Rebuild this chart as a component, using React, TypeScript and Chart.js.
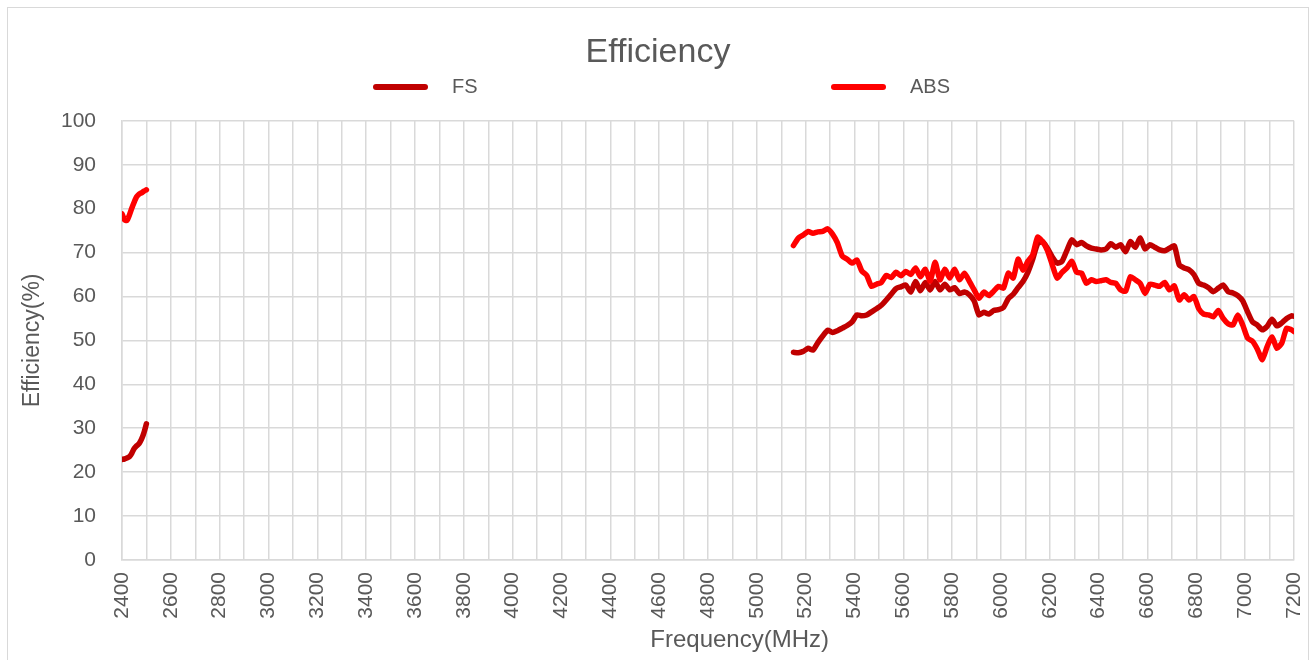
import { useEffect, useRef } from 'react';
import { Chart, registerables } from 'chart.js';

Chart.register(...registerables);

// ---- Data ----
const lowBandFreqs = [2400, 2410, 2420, 2430, 2440, 2450, 2460, 2470, 2480, 2490, 2500];
const fsLow = [22.9, 23.0, 23.2, 23.5, 24.3, 25.4, 26.0, 26.5, 27.5, 29.0, 31.0];
const absLow = [78.8, 77.5, 77.3, 78.5, 80.1, 81.5, 82.7, 83.3, 83.6, 84.0, 84.3];

const highBandFreqs = [
  5150, 5170, 5190, 5210, 5230, 5250, 5270, 5290, 5310, 5330,
  5350, 5370, 5390, 5410, 5430, 5450, 5470, 5490, 5510, 5530,
  5550, 5570, 5590, 5610, 5630, 5650, 5670, 5690, 5710, 5730,
  5750, 5770, 5790, 5810, 5830, 5850, 5870, 5890, 5910, 5930,
  5950, 5970, 5990, 6010, 6030, 6050, 6070, 6090, 6110, 6130,
  6150, 6170, 6190, 6210, 6230, 6250, 6270, 6290, 6310, 6330,
  6350, 6370, 6390, 6410, 6430, 6450, 6470, 6490, 6510, 6530,
  6550, 6570, 6590, 6610, 6630, 6650, 6670, 6690, 6710, 6730,
  6750, 6770, 6790, 6810, 6830, 6850, 6870, 6890, 6910, 6930,
  6950, 6970, 6990, 7010, 7030, 7050, 7070, 7090, 7110, 7130,
  7150, 7170, 7190, 7200,
];
const fsHigh = [
  47.3, 47.2, 47.5, 48.2, 47.8, 49.5, 51.0, 52.3, 51.8, 52.2,
  52.8, 53.4, 54.2, 55.8, 55.6, 55.8, 56.5, 57.2, 58.0, 59.2,
  60.5, 61.8, 62.2, 62.6, 61.0, 63.4, 61.3, 63.2, 61.5, 63.4,
  61.5, 62.8, 61.5, 62.0, 60.7, 61.0, 60.4, 59.0, 55.8, 56.4,
  56.0, 56.8, 57.0, 57.5, 59.5, 60.5, 62.0, 63.4, 65.5, 68.5,
  72.0, 72.5, 71.0, 69.0, 67.6, 68.0, 70.5, 72.9, 71.8, 72.3,
  71.5, 71.0, 70.8, 70.6, 70.8, 72.0, 71.2, 71.8, 70.2, 72.5,
  71.2, 73.3, 70.8, 71.8, 71.2, 70.6, 70.4, 71.0, 71.5, 67.2,
  66.5, 66.1, 65.0, 63.0, 62.6, 62.0, 61.1, 61.9, 62.6, 61.1,
  60.8, 60.2, 59.0, 56.5, 54.2, 53.5, 52.4, 53.2, 54.8, 53.3,
  54.0, 55.0, 55.6, 55.5,
];
const absHigh = [
  71.6, 73.3, 74.0, 74.8, 74.4, 74.7, 74.8, 75.4, 74.2, 72.2,
  69.2, 68.5, 67.6, 68.3, 65.8, 64.8, 62.3, 62.8, 63.2, 64.8,
  64.3, 65.5, 64.7, 65.7, 65.0, 66.5, 64.5, 66.2, 63.5, 67.8,
  63.8, 66.2, 64.2, 66.2, 63.8, 65.3, 63.5, 61.5, 59.6, 61.0,
  60.2, 61.2, 62.3, 61.9, 65.3, 64.2, 68.5, 66.0, 68.0, 69.5,
  73.5, 72.5, 70.5, 67.2, 64.2, 65.5, 66.5, 68.0, 65.5, 65.3,
  63.0, 63.8, 63.4, 63.6, 63.8, 63.2, 63.0, 61.5, 61.2, 64.5,
  63.8, 63.0, 60.7, 62.8, 62.6, 62.3, 63.2, 61.5, 62.4, 59.2,
  60.4, 59.2, 60.0, 57.2, 56.0, 55.8, 55.4, 56.8, 55.0, 53.8,
  53.5, 55.8, 53.5, 50.5, 49.8, 48.0, 45.6, 48.6, 50.8, 48.2,
  49.4, 52.8, 52.4, 52.0,
];

const seriesNames = ['FS', 'ABS'];
const seriesColors = ['#C00000', '#FF0000'];

const chartTitle = 'Efficiency';
const xAxisTitle = 'Frequency(MHz)';
const yAxisTitle = 'Efficiency(%)';
const xMin = 2400;
const xMax = 7200;
const xGridStep = 100;
const xLabelStep = 200;
const yMin = 0;
const yMax = 100;
const yStep = 10;

// ---- Styles ----
const FONT = '"Liberation Sans", Arial, sans-serif';
const TEXT = '#595959';
const GRID = '#d9d9d9';
const legendOffsets = [-285, 173];
const legendY = 79;
const xTitleFrac = 0.527;
const xTitleY = 632;

const toPoints = (xs: number[], ys: number[]) => xs.map((x, i) => ({ x, y: ys[i] }));

const decorPlugin = {
  id: 'decor',
  afterDraw(chart: any) {
    const ctx = chart.ctx as CanvasRenderingContext2D;
    const cx = chart.width / 2;
    ctx.save();
    ctx.font = `20px ${FONT}`;
    ctx.textBaseline = 'middle';
    ctx.textAlign = 'left';
    seriesNames.forEach((name, i) => {
      const x0 = cx + legendOffsets[i];
      ctx.strokeStyle = seriesColors[i];
      ctx.lineWidth = 6;
      ctx.lineCap = 'round';
      ctx.beginPath();
      ctx.moveTo(x0 + 3, legendY);
      ctx.lineTo(x0 + 52, legendY);
      ctx.stroke();
      ctx.fillStyle = TEXT;
      ctx.fillText(name, x0 + 79, legendY);
    });
    // x-axis title
    const { left, right } = chart.chartArea;
    ctx.font = `24px ${FONT}`;
    ctx.textAlign = 'center';
    ctx.fillStyle = TEXT;
    ctx.fillText(xAxisTitle, left + (right - left) * xTitleFrac, xTitleY);
    ctx.restore();
  },
};

export default function App() {
  const canvasRef = useRef<HTMLCanvasElement | null>(null);

  useEffect(() => {
    if (!canvasRef.current) return;
    const lineStyle = (i: number, order: number) => ({
      borderColor: seriesColors[i],
      backgroundColor: seriesColors[i],
      borderWidth: 5.5,
      pointRadius: 0,
      pointHoverRadius: 0,
      tension: 0.2,
      borderCapStyle: 'round' as const,
      borderJoinStyle: 'round' as const,
      fill: false,
      order,
    });
    const chart = new Chart(canvasRef.current, {
      type: 'line',
      data: {
        datasets: [
          { label: seriesNames[0], data: toPoints(lowBandFreqs, fsLow), ...lineStyle(0, 1) },
          { label: seriesNames[0], data: toPoints(highBandFreqs, fsHigh), ...lineStyle(0, 1) },
          { label: seriesNames[1], data: toPoints(lowBandFreqs, absLow), ...lineStyle(1, 0) },
          { label: seriesNames[1], data: toPoints(highBandFreqs, absHigh), ...lineStyle(1, 0) },
        ],
      },
      options: {
        animation: false,
        responsive: true,
        maintainAspectRatio: false,
        layout: { padding: { left: 14, right: 14, top: 0, bottom: 0 } },
        plugins: {
          legend: { display: false },
          tooltip: { enabled: false },
          title: {
            display: true,
            text: chartTitle,
            color: TEXT,
            font: { family: FONT, size: 34, weight: 'normal' },
            padding: { top: 24, bottom: 48 },
          },
        },
        scales: {
          x: {
            type: 'linear',
            min: xMin,
            max: xMax,
            afterFit: (scale: any) => {
              scale.height = 100;
              scale.paddingLeft = 0;
              scale.paddingRight = 0;
            },
            ticks: {
              stepSize: xGridStep,
              autoSkip: false,
              minRotation: 90,
              maxRotation: 90,
              padding: 12,
              color: TEXT,
              font: { family: FONT, size: 21 },
              callback: (v: any) => (Number(v) % xLabelStep === 0 ? String(v) : ''),
            },
            grid: { color: GRID, lineWidth: 1.5, drawTicks: false },
            border: { color: GRID, width: 1.5 },
            title: { display: false },
          },
          y: {
            min: yMin,
            max: yMax,
            afterFit: (scale: any) => {
              scale.width = 100;
            },
            ticks: {
              stepSize: yStep,
              padding: 26,
              color: TEXT,
              font: { family: FONT, size: 21 },
            },
            grid: { color: GRID, lineWidth: 1.5, drawTicks: false },
            border: { color: GRID, width: 1.5 },
            title: {
              display: true,
              text: yAxisTitle,
              color: TEXT,
              font: { family: FONT, size: 23 },
              padding: { top: -3, bottom: 0 },
            },
          },
        },
      },
      plugins: [decorPlugin],
    });
    return () => chart.destroy();
  }, []);

  return (
    <div
      style={{
        position: 'absolute',
        left: 7,
        top: 7,
        width: 1302,
        height: 660,
        border: '1px solid #d9d9d9',
        boxSizing: 'border-box',
        background: '#fff',
      }}
    >
      <div style={{ position: 'relative', width: 1300, height: 652 }}>
        <canvas ref={canvasRef} />
      </div>
    </div>
  );
}
